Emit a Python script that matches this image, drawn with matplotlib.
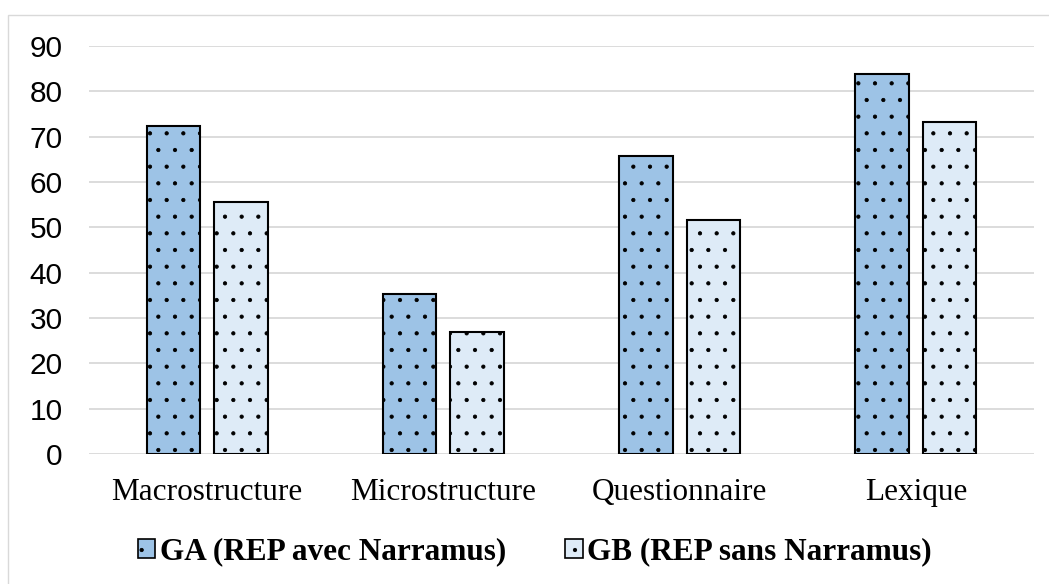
import numpy as np
import matplotlib.pyplot as plt
from matplotlib.patches import Patch, Rectangle

categories = ['Macrostructure', 'Microstructure', 'Questionnaire', 'Lexique']
ga_values = [72.3, 35.3, 65.7, 83.8]
gb_values = [55.6, 26.9, 51.6, 73.2]
series_names = ['GA (REP avec Narramus)', 'GB (REP sans Narramus)']
yticks = [0, 10, 20, 30, 40, 50, 60, 70, 80, 90]

ga_color = '#9dc3e6'
gb_color = '#deebf7'
grid_color = '#d9d9d9'

plt.rcParams['hatch.linewidth'] = 0.6

fig = plt.figure(figsize=(10.49, 5.84), dpi=100)
ax = fig.add_axes([0.0848, 0.2226, 0.9009, 0.6986])

x = np.arange(len(categories))
width = 0.226
offset = 0.143

ax.bar(x - offset, ga_values, width, color=ga_color, edgecolor='black',
       linewidth=1.5, hatch='.', zorder=3)
ax.bar(x + offset, gb_values, width, color=gb_color, edgecolor='black',
       linewidth=1.5, hatch='.', zorder=3)

ax.set_xlim(-0.5, len(categories) - 0.5)
ax.set_ylim(0, 90)
ax.set_yticks(yticks)
ax.yaxis.grid(True, color=grid_color, linewidth=1.3)
ax.set_axisbelow(True)
for s in ax.spines.values():
    s.set_visible(False)

ax.tick_params(axis='y', length=0, pad=19)
ax.tick_params(axis='x', length=0, pad=17)
ax.set_xticks(x)
ax.set_xticklabels(categories, fontfamily='Liberation Serif', fontsize=22.5)
for lbl in ax.get_yticklabels():
    lbl.set_fontfamily('Liberation Sans')
    lbl.set_fontsize(21.5)

handles = [
    Patch(facecolor=ga_color, edgecolor='black', linewidth=1.2, hatch='.'),
    Patch(facecolor=gb_color, edgecolor='black', linewidth=1.2, hatch='.'),
]
fig.legend(handles, series_names, loc='center', bbox_to_anchor=(0.51, 0.055),
           ncol=2, frameon=False, handlelength=0.55, handleheight=0.55,
           handletextpad=0.15, columnspacing=1.9, borderpad=0,
           prop={'family': 'Liberation Serif', 'weight': 'bold', 'size': 22.5})

# thin frame around the chart area
fig.patches.append(Rectangle((8 / 1049, -0.1), 1.2, 1 - 15 / 584 + 0.1,
                             transform=fig.transFigure, fill=False,
                             edgecolor=grid_color, linewidth=1.0))

fig.savefig('out.png', dpi=100)
